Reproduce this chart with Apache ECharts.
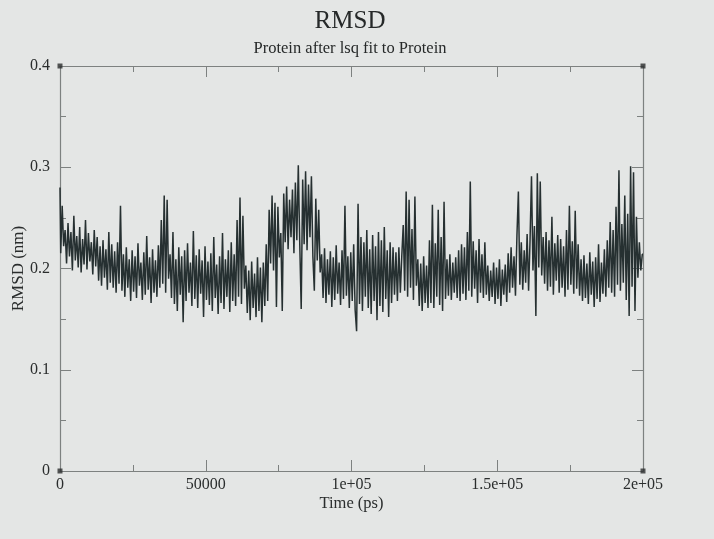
<!DOCTYPE html>
<html>
<head>
<meta charset="utf-8">
<script src="https://cdn.jsdelivr.net/npm/echarts@6/dist/echarts.min.js"></script>
<style>
html,body{margin:0;padding:0;background:#e4e6e5;}
#chart{width:714px;height:539px;}
</style>
</head>
<body>
<div id="chart"></div>
<script>
// Time range (ps) and axis ticks
const tStart = 0;
const tEnd = 200000;
const xTicks = [0, 50000, 100000, 150000, 200000];
const xTickLabels = ['0', '50000', '1e+05', '1.5e+05', '2e+05'];
const yTicks = [0, 0.1, 0.2, 0.3, 0.4];
const yTickLabels = ['0', '0.1', '0.2', '0.3', '0.4'];

// RMSD (nm) samples, evenly spaced in time
const rmsd = [
0.28,0.215,0.262,0.222,
0.238,0.205,0.245,0.212,0.236,0.198,0.252,0.208,0.232,0.201,0.241,0.196,0.229,0.204,0.248,0.199,0.235,0.207,0.226,0.194,0.238,0.202,0.231,
0.188,0.222,0.183,0.228,0.191,0.219,0.179,0.236,0.186,0.224,0.181,0.217,0.176,0.226,0.185,0.262,
0.178,0.214,0.172,0.221,0.181,0.209,0.168,0.218,0.177,0.212,0.171,0.225,0.183,0.206,0.169,0.216,0.174,0.232,0.179,0.211,0.166,0.219,0.176,0.208,0.172,0.223,0.181,
0.248,0.185,0.272,0.176,0.268,0.19,
0.214,0.171,0.236,0.165,0.209,0.158,0.221,0.174,0.212,0.147,0.218,0.168,0.225,0.176,0.206,0.163,0.237,0.17,0.213,0.161,0.219,0.175,0.208,0.152,0.222,0.169,
0.207,0.164,0.215,0.158,0.231,0.171,0.204,0.155,0.212,0.166,0.235,0.16,0.209,0.172,0.218,0.157,0.226,0.168,0.214,0.163,
0.248,0.172,0.27,0.165,0.252,0.18,
0.203,0.156,0.198,0.149,0.207,0.161,0.195,0.152,0.211,0.158,0.201,0.147,0.206,0.163,0.224,0.168,
0.258,0.205,0.272,0.198,0.265,0.162,0.261,0.211,
0.235,0.158,
0.274,0.226,0.281,0.219,0.268,0.231,0.278,0.215,0.285,0.228,0.302,0.224,
0.16,
0.288,0.224,0.296,0.218,0.283,0.231,0.291,0.212,0.178,0.269,0.208,0.258,0.196,
0.214,0.171,0.22,0.166,0.209,0.174,0.217,0.162,0.211,0.169,0.223,0.175,0.206,0.164,0.218,0.17,0.262,0.173,0.212,0.161,0.216,0.168,0.224,0.159,
0.138,0.264,0.165,0.231,0.158,0.226,0.172,0.238,0.161,0.219,0.155,0.233,0.168,0.222,0.149,0.236,0.163,0.228,0.157,0.241,0.17,0.218,0.152,0.226,0.166,0.221,
0.174,0.216,0.168,0.221,0.176,0.212,
0.243,0.178,0.276,0.172,0.268,0.181,0.239,0.169,0.271,0.183,
0.209,0.163,0.205,0.158,0.212,0.166,0.203,0.161,
0.228,0.166,0.263,0.161,0.225,0.172,0.258,0.164,0.231,0.158,0.266,0.17,
0.209,0.173,0.214,0.169,0.206,0.176,0.211,0.171,0.218,0.168,
0.224,0.175,0.221,0.169,0.236,0.178,0.286,0.172,0.227,0.18,0.218,0.166,0.229,0.176,0.214,0.171,0.226,0.174,
0.203,0.168,0.198,0.172,0.206,0.165,0.201,0.17,0.209,0.163,0.199,0.174,0.204,0.167,
0.215,0.176,0.221,0.181,0.212,0.173,0.232,0.276,0.184,0.226,0.179,0.218,0.186,0.234,0.178,0.228,
0.291,0.198,0.242,0.153,0.294,0.201,0.286,0.193,
0.231,0.185,0.236,0.178,0.228,0.182,0.251,0.174,0.225,0.188,0.233,0.176,0.229,0.181,0.222,0.172,0.238,0.179,0.262,0.184,0.227,0.175,0.257,0.18,0.224,0.173,
0.209,0.168,0.213,0.171,0.205,0.165,0.216,0.174,0.207,0.162,0.211,0.17,0.224,0.167,0.206,0.175,0.219,0.172,
0.228,0.181,0.246,0.176,0.238,0.172,0.261,0.184,0.297,0.178,0.244,0.186,0.272,0.169,0.254,0.153,0.301,0.182,0.295,0.158,0.251,0.191,0.226,0.198,0.214
];

// Corner markers of the graph frame
const cornerX = [0, 0, 200000, 200000];
const cornerY = [0, 0.4, 0.4, 0];

const dt = (tEnd - tStart) / (rmsd.length - 1);
const lineData = rmsd.map((v, i) => [tStart + i * dt, v]);
const cornerData = cornerX.map((x, i) => [x, cornerY[i]]);

const font = '"Liberation Serif", "DejaVu Serif", serif';
const axisGray = '#7d8180';
const textColor = '#2a2d2d';

function xLabel(v) {
  const i = xTicks.indexOf(v);
  return i >= 0 ? xTickLabels[i] : '';
}
function yLabel(v) {
  for (let i = 0; i < yTicks.length; i++) {
    if (Math.abs(yTicks[i] - v) < 1e-9) return yTickLabels[i];
  }
  return '';
}

function makeAxis(kind, position, extra) {
  const isX = kind === 'x';
  return Object.assign({
    type: 'value',
    position: position,
    min: isX ? tStart : 0,
    max: isX ? tEnd : 0.4,
    interval: isX ? 50000 : 0.1,
    axisLine: {show: true, onZero: false, lineStyle: {color: axisGray, width: 1.2}},
    axisTick: {show: true, inside: true, length: 11, lineStyle: {color: axisGray}},
    minorTick: {show: true, splitNumber: 2, length: 6, lineStyle: {color: axisGray}},
    splitLine: {show: false},
    minorSplitLine: {show: false},
    axisLabel: {show: false}
  }, extra || {});
}

const chart = echarts.init(document.getElementById('chart'), null, {renderer: 'canvas'});
chart.setOption({
  backgroundColor: '#e4e6e5',
  animation: false,
  title: [
    {text: 'RMSD', left: 345, top: 4, textAlign: 'center',
     textStyle: {fontFamily: font, fontSize: 25, fontWeight: 'normal', color: '#262929'}},
    {text: 'Protein after lsq fit to Protein', left: 345, top: 35, textAlign: 'center',
     textStyle: {fontFamily: font, fontSize: 16.5, fontWeight: 'normal', color: '#262929'}}
  ],
  grid: {left: 60, right: 71, top: 66, bottom: 68, containLabel: false, outerBoundsMode: 'none'},
  xAxis: [
    makeAxis('x', 'bottom', {
      name: 'Time (ps)', nameLocation: 'middle', nameGap: 24, nameMoveOverlap: false,
      nameTextStyle: {fontFamily: font, fontSize: 16.5, color: textColor},
      axisLabel: {show: true, margin: 6, fontFamily: font, fontSize: 16, color: textColor, formatter: xLabel}
    }),
    makeAxis('x', 'top')
  ],
  yAxis: [
    makeAxis('y', 'left', {
      name: 'RMSD (nm)', nameLocation: 'middle', nameGap: 33, nameRotate: 90, nameMoveOverlap: false,
      nameTextStyle: {fontFamily: font, fontSize: 17, color: textColor},
      axisLabel: {show: true, margin: 10, fontFamily: font, fontSize: 16, color: textColor, formatter: yLabel}
    }),
    makeAxis('y', 'right')
  ],
  series: [
    {
      type: 'line', data: lineData, showSymbol: false, symbol: 'none',
      sampling: null, step: 'middle',
      lineStyle: {color: '#263031', width: 1.5},
      xAxisIndex: 0, yAxisIndex: 0, z: 3
    },
    {
      type: 'scatter', data: cornerData, symbol: 'rect', symbolSize: 5,
      itemStyle: {color: '#2a2d2d'}, clip: false, silent: true,
      xAxisIndex: 0, yAxisIndex: 0, z: 5
    }
  ]
});
</script>
</body>
</html>
